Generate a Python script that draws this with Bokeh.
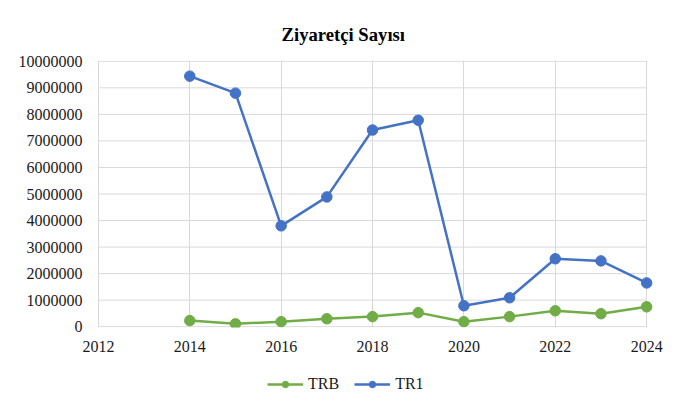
from bokeh.plotting import figure
from bokeh.layouts import column
from bokeh.models import (Range1d, FixedTicker, BasicTickFormatter, Legend, LegendItem, Title)
from bokeh.embed import file_html
from bokeh.resources import INLINE

years = [2014, 2015, 2016, 2017, 2018, 2019, 2020, 2021, 2022, 2023, 2024]
trb = [230000, 110000, 190000, 300000, 380000, 530000, 190000, 380000, 600000, 490000, 750000]
tr1 = [9440000, 8800000, 3800000, 4890000, 7410000, 7780000, 790000, 1090000, 2560000, 2480000, 1650000]
x_ticks = [2012, 2014, 2016, 2018, 2020, 2022, 2024]
y_ticks = [0, 1000000, 2000000, 3000000, 4000000, 5000000, 6000000, 7000000, 8000000, 9000000, 10000000]
series_names = ["TRB", "TR1"]

FONT = "Liberation Serif"
GRID = "#D9D9D9"
GREEN = "#70AD47"
BLUE = "#4472C4"

p = figure(frame_width=556, frame_height=267,
           x_range=Range1d(2011.98, 2024.15), y_range=Range1d(-30000, 10030000),
           output_backend="svg", toolbar_location=None,
           min_border_left=97, min_border_right=14, min_border_top=60, min_border_bottom=40)
p.outline_line_color = None
p.background_fill_color = "white"
p.border_fill_color = "white"

p.title = Title(text="Ziyaretçi Sayısı", align="left", offset=184,
                text_font=FONT, text_font_size="18.67px", text_font_style="bold",
                text_color="black", standoff=31)

# horizontal gridlines limited to the data span
p.ygrid.visible = False
p.segment(x0=[x_ticks[0]] * len(y_ticks), x1=[x_ticks[-1]] * len(y_ticks),
          y0=y_ticks, y1=y_ticks, line_color=GRID, line_width=1)
p.xgrid.ticker = FixedTicker(ticks=x_ticks)
p.xgrid.grid_line_color = GRID
p.xgrid.grid_line_width = 1

for ax in (p.xaxis[0], p.yaxis[0]):
    ax.axis_line_color = None
    ax.major_tick_line_color = None
    ax.minor_tick_line_color = None
    ax.major_tick_out = 0
    ax.major_tick_in = 0
    ax.major_label_text_font = FONT
    ax.major_label_text_font_size = "16px"
    ax.major_label_text_color = "#1a1a1a"
p.xaxis.ticker = FixedTicker(ticks=x_ticks)
p.yaxis.ticker = FixedTicker(ticks=y_ticks)
p.yaxis.formatter = BasicTickFormatter(use_scientific=False)
p.xaxis.major_label_standoff = 13
p.yaxis.major_label_standoff = 15

p.line(years, trb, line_color=GREEN, line_width=2.5)
p.scatter(years, trb, size=10.5, fill_color=GREEN, line_color=GREEN)
p.line(years, tr1, line_color=BLUE, line_width=2.5)
p.scatter(years, tr1, size=10.5, fill_color=BLUE, line_color=BLUE)

# legend strip below the chart (its series renderers lie outside its 0..1 ranges)
pl = figure(width=667, height=40, x_range=Range1d(0, 1), y_range=Range1d(0, 1),
            x_axis_type=None, y_axis_type=None, output_backend="svg", toolbar_location=None,
            min_border=0)
pl.outline_line_color = None
pl.grid.visible = False
gl = pl.line(years, trb, line_color=GREEN, line_width=2.5)
gs = pl.scatter(years, trb, size=10.5, fill_color=GREEN, line_color=GREEN)
bl = pl.line(years, tr1, line_color=BLUE, line_width=2.5)
bs = pl.scatter(years, tr1, size=10.5, fill_color=BLUE, line_color=BLUE)

legend = Legend(items=[LegendItem(label=series_names[0], renderers=[gl, gs]),
                       LegendItem(label=series_names[1], renderers=[bl, bs])],
                orientation="horizontal", location=(170, 14),
                glyph_width=36, glyph_height=16, label_standoff=5, spacing=15,
                padding=0, margin=0, border_line_color=None, background_fill_alpha=0,
                label_text_font=FONT, label_text_font_size="16px", label_text_color="#1a1a1a")
pl.add_layout(legend, "center")

layout = column(p, pl, spacing=0)
open("out.html", "w").write(file_html(layout, INLINE))
